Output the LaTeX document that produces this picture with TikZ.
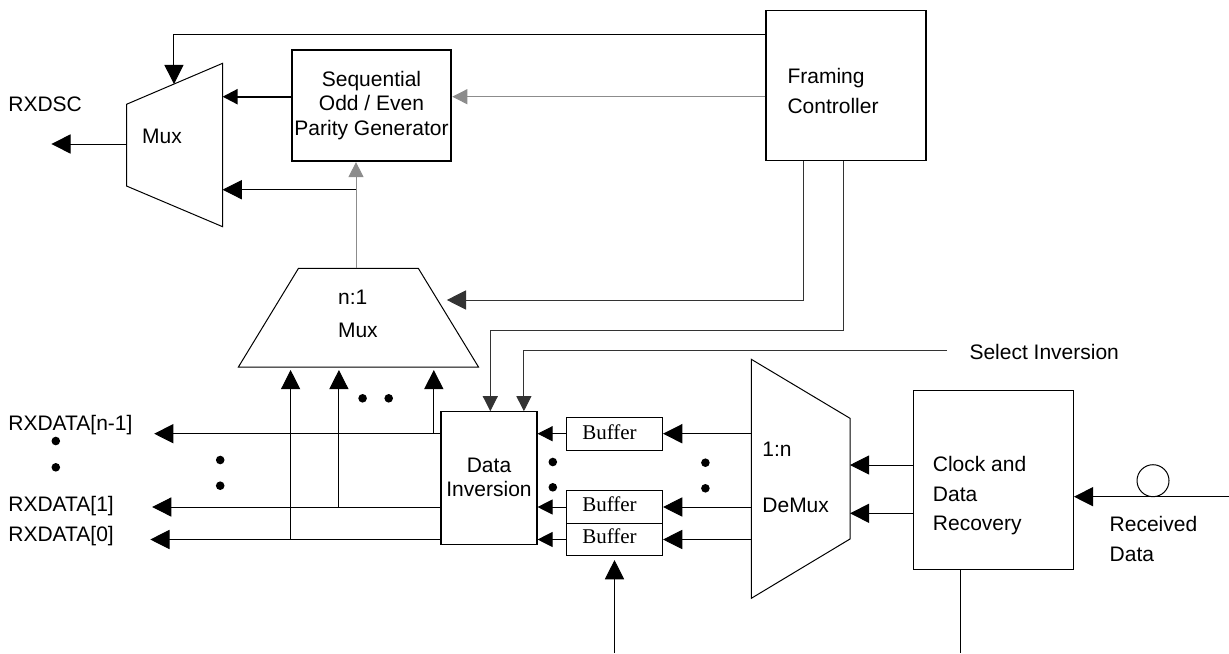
\documentclass[tikz,border=0pt]{standalone}
\usepackage{fontspec}
\setmainfont{Liberation Sans}
\newfontfamily\bufferfont{Liberation Serif}
\usetikzlibrary{arrows.meta,calc}
\begin{document}
\begin{tikzpicture}[x=0.5pt,y=-0.5pt,
  line width=0.5pt,
  sig/.style={-{Triangle[length=9.6pt,width=9.6pt]}},
  sigs/.style={-{Triangle[length=7.5pt,width=7.5pt]}},
  box/.style={draw, inner sep=0pt, line width=0.55pt},
  lbl/.style={inner sep=0pt, font=\fontsize{10.5}{12}\selectfont},
  buflbl/.style={inner sep=0pt, font=\bufferfont\fontsize{10.5}{12}\selectfont},
  dot/.style={circle, fill, inner sep=0pt, minimum size=4.3pt},
  faint/.style={draw=black!45},
]
\useasboundingbox (0,0) rectangle (1229,653);

% ---- blocks ----
\node[box, minimum width=80pt, minimum height=74.8pt] (fc) at (846,85.5) {};
\node[box, line width=1.1pt, minimum width=79.7pt, minimum height=55.6pt] (par) at (371.5,105.4) {};
\node[box, minimum width=48pt, minimum height=66.2pt] (di) at (489,477.9) {};
\node[box, minimum width=48pt, minimum height=16.4pt] (b1) at (614.5,433.7) {};
\node[box, minimum width=48pt, minimum height=16.5pt] (b2) at (614.5,507) {};
\node[box, minimum width=48pt, minimum height=16pt] (b3) at (614.5,539.5) {};
\node[box, minimum width=80pt, minimum height=89.3pt] (cdr) at (993.4,480) {};
\node[circle, draw, minimum size=16pt, inner sep=0pt] (ring) at (1153,480.7) {};

% output multiplexer
\coordinate (mA) at (126.5,104.3);
\coordinate (mB) at (222.6,63.3);
\coordinate (mC) at (222.6,226.7);
\coordinate (mD) at (126.5,186);
\draw (mA) -- (mB) -- (mC) -- (mD) -- cycle;
\coordinate (muxtop) at ($(mA)!0.494!(mB)$);

% n:1 multiplexer
\coordinate (nA) at (298.5,268.3);
\coordinate (nB) at (418.3,268.3);
\coordinate (nC) at (478.5,367);
\coordinate (nD) at (238.4,367);
\draw (nA) -- (nB) -- (nC) -- (nD) -- cycle;

% 1:n demultiplexer
\coordinate (dA) at (751.3,359.3);
\coordinate (dB) at (850,418.3);
\coordinate (dC) at (850,539);
\coordinate (dD) at (751.3,598.3);
\draw (dA) -- (dB) -- (dC) -- (dD) -- cycle;

% ---- labels ----
\node[lbl, anchor=base west] (rxdsc) at (7.9,111) {RXDSC};
\node[lbl, anchor=base] (muxl) at (162,143.5) {Mux};
\node[lbl, anchor=base] (par1) at (371.5,86.3) {Sequential};
\node[lbl, anchor=base] (par2) at (371.5,110.8) {Odd / Even};
\node[lbl, anchor=base] (par3) at (371.5,135.3) {Parity Generator};
\node[lbl, anchor=base west] (fc1) at (787,83.4) {Framing};
\node[lbl, anchor=base west] (fc2) at (787,113.4) {Controller};
\node[lbl, anchor=base] (n1) at (352.7,304.2) {n:1};
\node[lbl, anchor=base] (n2) at (357.9,337.3) {Mux};
\node[lbl, anchor=base west] (sel) at (969,359) {Select Inversion};
\node[lbl, anchor=base west] (rx2) at (7.9,430) {RXDATA[n-1]};
\node[lbl, anchor=base west] (rx1) at (7.9,511) {RXDATA[1]};
\node[lbl, anchor=base west] (rx0) at (7.9,541.7) {RXDATA[0]};
\node[lbl, anchor=base] (di1) at (489,472.3) {Data};
\node[lbl, anchor=base] (di2) at (489,496.7) {Inversion};
\node[buflbl, anchor=base] (bl1) at (609.5,439) {Buffer};
\node[buflbl, anchor=base] (bl2) at (609.5,511.7) {Buffer};
\node[buflbl, anchor=base] (bl3) at (609.5,543.3) {Buffer};
\node[lbl, anchor=base west] (dm1) at (761.9,456.7) {1:n};
\node[lbl, anchor=base west] (dm2) at (761.9,512.3) {DeMux};
\node[lbl, anchor=base west] (cd1) at (932.4,471) {Clock and};
\node[lbl, anchor=base west] (cd2) at (932.4,501) {Data};
\node[lbl, anchor=base west] (cd3) at (932.4,530) {Recovery};
\node[lbl, anchor=base west] (rd1) at (1109.2,531.7) {Received};
\node[lbl, anchor=base west] (rd2) at (1109.2,561.7) {Data};

% ---- ellipsis dots ----
\node[dot] (e1) at (55.8,441) {};
\node[dot] (e2) at (55.8,467.3) {};
\node[dot] (e3) at (220.2,460) {};
\node[dot] (e4) at (220.2,485.7) {};
\node[dot] (e5) at (362.6,398.3) {};
\node[dot] (e6) at (388.7,398.3) {};
\node[dot] (e7) at (552.8,462) {};
\node[dot] (e8) at (552.8,487.3) {};
\node[dot] (e9) at (705.4,462.7) {};
\node[dot] (e10) at (705.4,488.3) {};

% ---- free ends ----
\coordinate (rxdscout) at (51.4,144);
\coordinate (tap) at (356,189.7);
\coordinate (nIn) at (446.8,300);
\coordinate (selend) at (947,350.7);
\coordinate (rxin) at (1229,496.7);

% ---- connectors ----
\draw[sig] (fc.west |- 0,34) -| (muxtop);
\draw[sigs, line width=1.1pt] (par.west |- 0,96.7) -- (mB |- 0,96.7);
\draw[sigs, faint] (fc.west |- 0,96.7) -- (par.east |- 0,96.7);
\draw[sigs, faint] (356,0 |- nA) -- (356,0 |- par.south);
\draw[sig] (tap) -- (mC |- tap);
\draw[sig] (mA |- rxdscout) -- (rxdscout);

\draw[sig, draw=black!80] (803.8,0 |- fc.south) |- (nIn);
\draw[sigs, draw=black!80] (843.9,0 |- fc.south) |- (490.3,330) -- (490.3,0 |- di.north);
\draw[sigs, draw=black!80] (selend) -| (523.9,0 |- di.north);

\draw[sig] (di.west |- b1) -- (154.2,0 |- b1);
\draw[sig] (di.west |- b2) -- (152.2,0 |- b2);
\draw[sig] (di.west |- b3) -- (150.3,0 |- b3);

\draw[sig, shorten >=1.5pt] (290.6,0 |- b3) -- (290.6,0 |- nD);
\draw[sig, shorten >=1.5pt] (338.9,0 |- b2) -- (338.9,0 |- nD);
\draw[sig, shorten >=1.5pt] (433.8,0 |- b1) -- (433.8,0 |- nD);

\draw[sigs] (b1.west) -- (di.east |- b1);
\draw[sigs] (b2.west) -- (di.east |- b2);
\draw[sigs] (b3.west) -- (di.east |- b3);

\draw[sig] (dA |- b1) -- (b1.east);
\draw[sig] (dA |- b2) -- (b2.east);
\draw[sig] (dA |- b3) -- (b3.east);

\draw[sig] (cdr.west |- 0,465) -- (dB |- 0,465);
\draw[sig] (cdr.west |- 0,513.3) -- (dB |- 0,513.3);

\draw[sig] (rxin) -- (cdr.east |- rxin);
\draw[sig, shorten >=2pt] (b3.south |- 0,653) -- (b3.south);
\draw (960.9,0 |- cdr.south) -- (960.9,653);
\end{tikzpicture}
\end{document}
